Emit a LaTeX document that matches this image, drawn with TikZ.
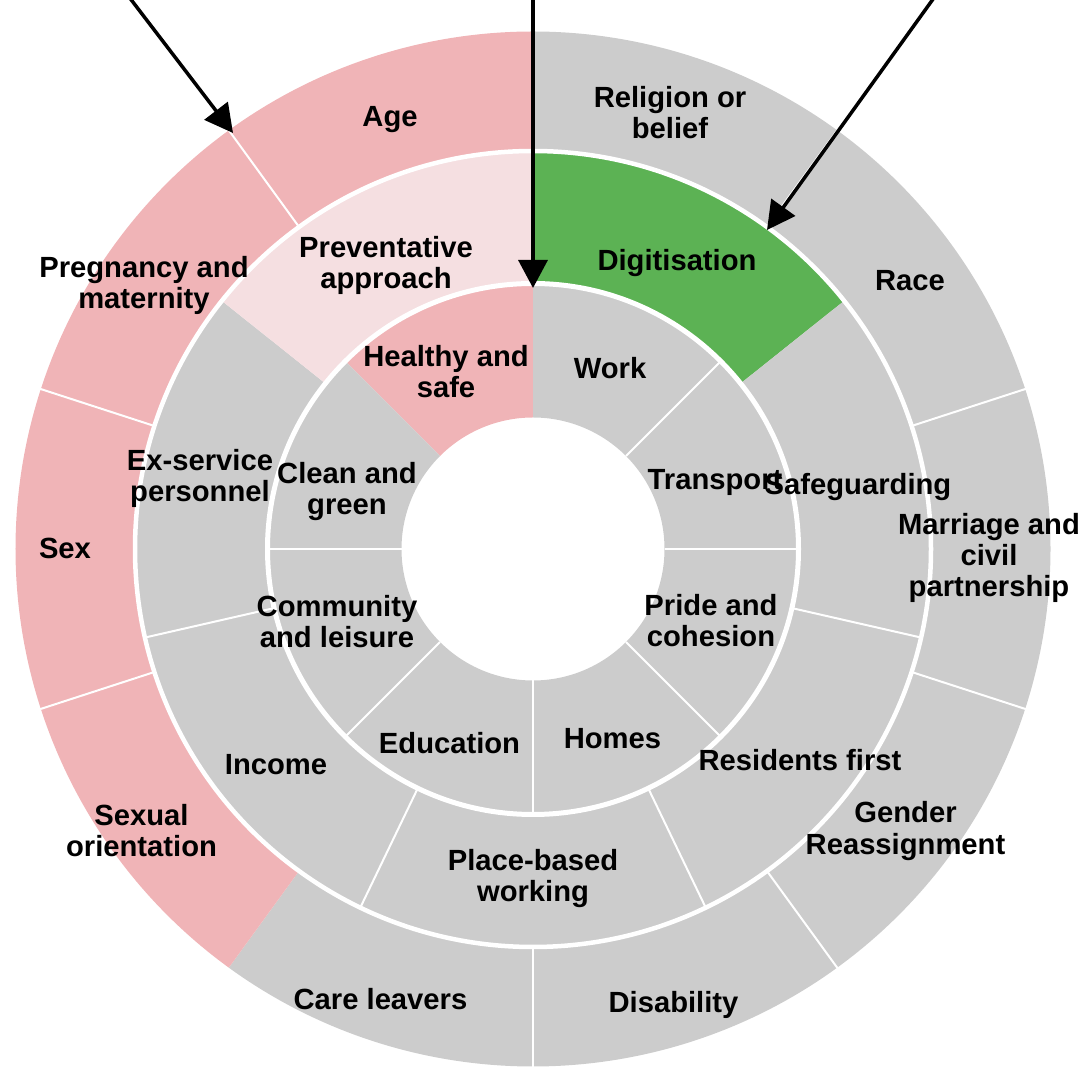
\documentclass[tikz,border=0pt]{standalone}
\usepackage{fontspec}
\setmainfont{Liberation Sans}
\usetikzlibrary{arrows.meta}
\definecolor{pinkA}{RGB}{240,180,183}
\definecolor{pinkB}{RGB}{245,223,225}
\definecolor{greenA}{RGB}{92,178,84}
\definecolor{grayA}{RGB}{204,204,204}
\newcommand\sect[5]{\fill[#5] (#1:#3pt) arc[start angle=#1, end angle=#2, radius=#3pt] -- (#2:#4pt) arc[start angle=#2, end angle=#1, radius=#4pt] -- cycle;}
\newcommand\sepline[3]{\draw[sep] (#1:#2pt) -- (#1:#3pt);}
\begin{document}
\begin{tikzpicture}[x=1pt,y=1pt,
  lbl/.style={font=\bfseries\fontsize{29.2}{31.2}\selectfont, align=center, inner sep=0pt, text=black},
  sep/.style={white, line width=2pt},
  ringgap/.style={white, line width=#1},
  pointer/.style={black, line width=3.5pt, -{Triangle[length=28pt,width=29pt]}}]
\useasboundingbox (0,0) rectangle (1090,1068);
\clip (0,0) rectangle (1090,1068);
\begin{scope}[shift={(533,519)}]
% inner ring (8 x 45 deg)
\sect{135}{90}{131.5}{266}{pinkA}
\sect{90}{45}{131.5}{266}{grayA}
\sect{45}{0}{131.5}{266}{grayA}
\sect{0}{-45}{131.5}{266}{grayA}
\sect{-45}{-90}{131.5}{266}{grayA}
\sect{-90}{-135}{131.5}{266}{grayA}
\sect{-135}{-180}{131.5}{266}{grayA}
\sect{180}{135}{131.5}{266}{grayA}
% middle ring (7 x 51.43 deg)
\sect{90}{38.5714}{265}{398.5}{greenA}
\sect{38.5714}{-12.8571}{265}{398.5}{grayA}
\sect{-12.8571}{-64.2857}{265}{398.5}{grayA}
\sect{-64.2857}{-115.7143}{265}{398.5}{grayA}
\sect{-115.7143}{-167.1429}{265}{398.5}{grayA}
\sect{-167.1429}{-218.5714}{265}{398.5}{grayA}
\sect{141.4286}{90}{265}{398.5}{pinkB}
% outer ring (10 x 36 deg)
\sect{90}{54}{398}{517.5}{grayA}
\sect{54}{18}{398}{517.5}{grayA}
\sect{18}{-18}{398}{517.5}{grayA}
\sect{-18}{-54}{398}{517.5}{grayA}
\sect{-54}{-90}{398}{517.5}{grayA}
\sect{-90}{-126}{398}{517.5}{grayA}
\sect{-126}{-162}{398}{517.5}{pinkA}
\sect{-162}{-198}{398}{517.5}{pinkA}
\sect{162}{126}{398}{517.5}{pinkA}
\sect{126}{90}{398}{517.5}{pinkA}
% ring gaps
\draw[ringgap=5pt] (0,0) circle[radius=265.5pt];
\draw[ringgap=4.5pt] (0,0) circle[radius=398pt];
% radial separators
\sepline{45}{131.5}{265.5}
\sepline{0}{131.5}{265.5}
\sepline{-45}{131.5}{265.5}
\sepline{-90}{131.5}{265.5}
\sepline{-135}{131.5}{265.5}
\sepline{180}{131.5}{265.5}
\sepline{-12.8571}{265.5}{398}
\sepline{-64.2857}{265.5}{398}
\sepline{-115.7143}{265.5}{398}
\sepline{-167.1429}{265.5}{398}
\sepline{54}{398}{518}
\sepline{18}{398}{518}
\sepline{-18}{398}{518}
\sepline{-54}{398}{518}
\sepline{-90}{398}{518}
\sepline{-162}{398}{518}
\sepline{162}{398}{518}
\sepline{126}{398}{518}
\end{scope}
% outer labels
\node[lbl] (age) at (390,948) {Age};
\node[lbl] (religion) at (670,955.5) {Religion or\\belief};
\node[lbl] (race) at (910,787) {Race};
\node[lbl] (marriage) at (989,510) {Marriage and\\civil\\partnership};
\node[lbl] (gender) at (905.5,237) {Gender\\Reassignment};
\node[lbl] (disability) at (673.5,63.5) {Disability};
\node[lbl] (care) at (380.5,68.5) {Care leavers};
\node[lbl] (sexor) at (141.5,237.5) {Sexual\\orientation};
\node[lbl] (sex) at (65,520) {Sex};
\node[lbl] (pregnancy) at (144,782.5) {Pregnancy and\\maternity};
% middle labels
\node[lbl] (prev) at (386,802.5) {Preventative\\approach};
\node[lbl] (digit) at (677,804.5) {Digitisation};
\node[lbl] (safe) at (858,580.5) {Safeguarding};
\node[lbl] (resid) at (800,307.5) {Residents first};
\node[lbl] (place) at (533,189.5) {Place-based\\working};
\node[lbl] (income) at (276,303.5) {Income};
\node[lbl] (exserv) at (200,589.5) {Ex-service\\personnel};
% inner labels
\node[lbl] (healthy) at (446,696.5) {Healthy and\\safe};
\node[lbl] (work) at (610,699.5) {Work};
\node[lbl] (transport) at (715,585.5) {Transport};
\node[lbl] (pride) at (711,447.5) {Pride and\\cohesion};
\node[lbl] (homes) at (612.5,329.5) {Homes};
\node[lbl] (educ) at (449.5,324.5) {Education};
\node[lbl] (commun) at (337,446.5) {Community\\and leisure};
\node[lbl] (clean) at (347,576.5) {Clean and\\green};
% arrows
\coordinate (s1) at (126,1075);
\coordinate (t1) at (233,935);
\coordinate (s2) at (533,1080);
\coordinate (t2) at (533,780);
\coordinate (s3) at (941,1080);
\coordinate (t3) at (767,838);
\draw[pointer] (s1) -- (t1);
\draw[pointer] (s2) -- (t2);
\draw[pointer] (s3) -- (t3);
\end{tikzpicture}
\end{document}
